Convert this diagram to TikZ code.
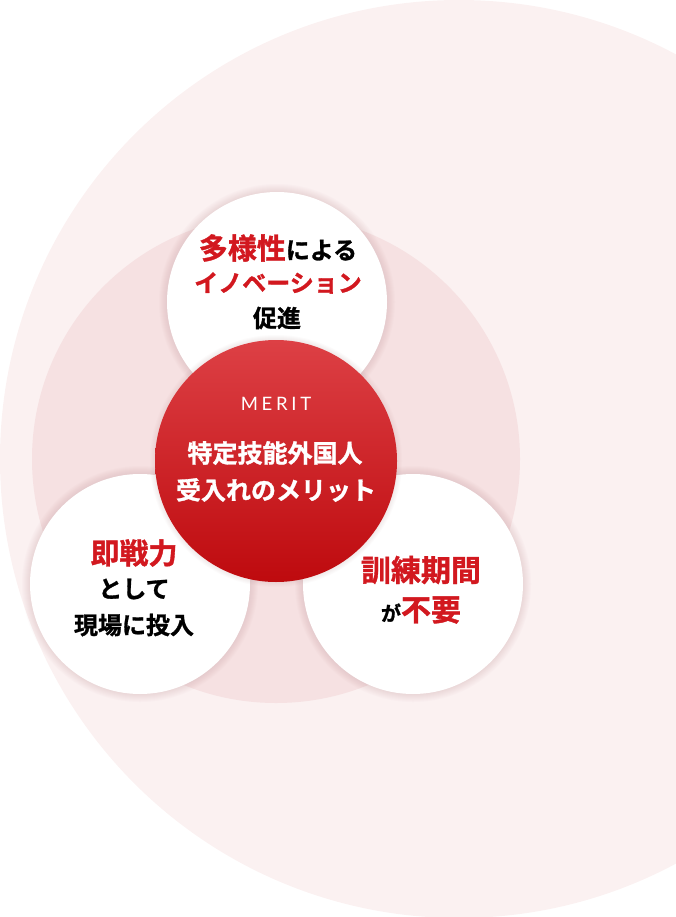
\documentclass[tikz,border=0pt]{standalone}
\usepackage{fontspec}
\setmainfont{Noto Sans CJK JP}[BoldFont={* Bold},BoldFeatures={FakeBold=1.2}]
\newfontfamily\meritfont{Lato}[LetterSpace=20]
\definecolor{outerpink}{HTML}{FBF1F1}
\definecolor{innerpink}{HTML}{F6E1E2}
\definecolor{jpred}{HTML}{D2181F}
\definecolor{merittop}{HTML}{DD4045}
\definecolor{meritbot}{HTML}{BE0A0E}
\definecolor{glowcol}{HTML}{C49A9E}
\newcommand\redword[2]{{\fontsize{#1}{#1}\selectfont\color{jpred}#2}}
\usetikzlibrary{shapes}

\begin{document}
\begin{tikzpicture}[x=1pt,y=-1pt,
      every node/.style={inner sep=0pt,font=\bfseries},
      disc/.style={circle,fill=white,minimum size=220pt},
      meritdisc/.style={circle,minimum size=242pt,top color=merittop,bottom color=meritbot},
      line/.style={font=\fontsize{24}{24}\selectfont\bfseries},
      whiteline/.style={text=white,font=\fontsize{25}{25}\selectfont\bfseries}]
    \useasboundingbox (0,0) rectangle (676,917);
    \clip (0,0) rectangle (676,917);
    \node[circle,fill=outerpink,minimum size=918pt] (outer) at (459,459) {};
    \node[circle,fill=innerpink,minimum size=488pt] (inner) at (276,459) {};
    \coordinate (ctop) at (277,302);
    \coordinate (cleft) at (140,584);
    \coordinate (cright) at (413,584);
    % soft shadow
    \foreach \p in {ctop,cleft,cright}
      \foreach \k in {1,...,8}
        \fill[glowcol,opacity=0.035] (\p) circle [radius={(110+\k)*1pt}];
    \node[disc] (top) at (ctop) {};
    \node[disc] (left) at (cleft) {};
    \node[disc] (right) at (cright) {};
    \foreach \k in {1,...,5}
      \fill[glowcol,opacity=0.04] (276,461) circle [radius={(121+\k)*1pt}];
    \node[meritdisc] (merit) at (276,461) {};

    \node[line] (top1) at (278,248) {\redword{29}{多様性}による};
    \node[line,text=jpred] (top2) at (278,283) {イノベーション};
    \node[line] (top3) at (277,318) {促進};

    \node[text=white,font=\fontsize{18.5}{18.5}\meritfont] (mtitle) at (276,404) {MERIT};
    \node[whiteline] (mline1) at (275,453) {特定技能外国人};
    \node[whiteline] (mline2) at (276,490) {受入れのメリット};

    \node[line] (left1) at (134,553) {\redword{29}{即戦力}};
    \node[line] (left2) at (134,589) {として};
    \node[line] (left3) at (134,625) {現場に投入};

    \node[line] (right1) at (421,570) {\redword{30}{訓練期間}};
    \node[line] (right2) at (421,610) {{\fontsize{20}{20}\selectfont が}\redword{30}{不要}};
  \end{tikzpicture}
\end{document}
